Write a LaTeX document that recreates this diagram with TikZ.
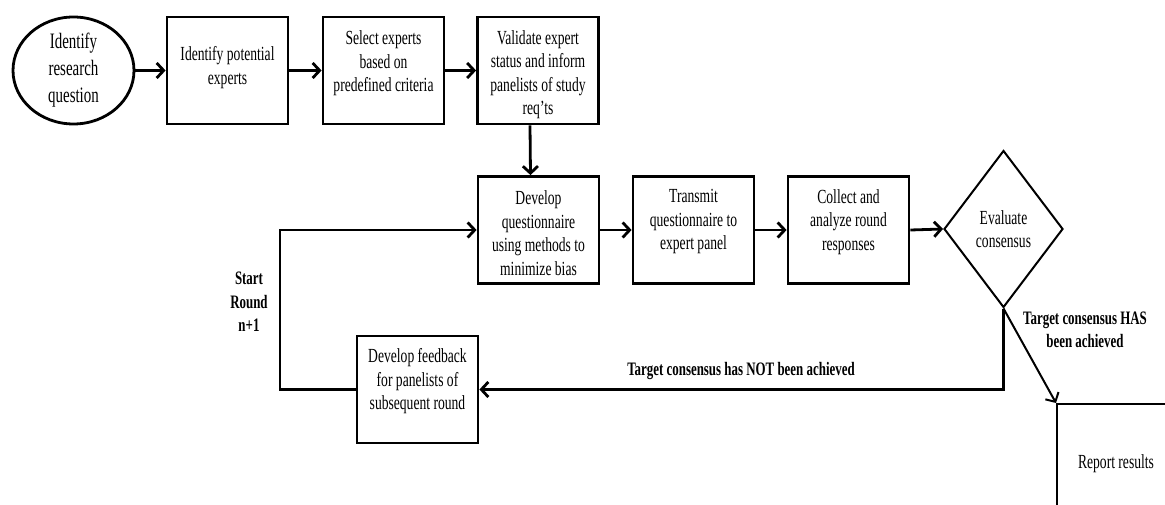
\documentclass[tikz,border=0pt]{standalone}
\usepackage{fontspec}
\setmainfont{Liberation Serif}[FakeStretch=0.68]
\usetikzlibrary{shapes.geometric,arrows.meta}
\tikzset{
  box/.style={draw, line width=2.8pt, minimum width=121pt, minimum height=107pt, inner sep=0pt},
  boxtext/.style={align=center, inner sep=0pt, font=\fontsize{20}{23.5}\selectfont},
  arr/.style={line width=2.8pt, -{Straight Barb[length=7pt,width=15pt]}},
  thinarr/.style={line width=2pt, -{Straight Barb[length=7pt,width=15pt]}},
  lbl/.style={align=center, inner sep=0pt, font=\bfseries\fontsize{19}{23.5}\selectfont}
}
\begin{document}
\begin{tikzpicture}[x=1pt,y=-1pt]
\clip (0,0) rectangle (1165,505);
\fill[white] (0,0) rectangle (1165,505);

\node[draw, ellipse, line width=2.8pt, minimum width=121pt, minimum height=107pt, inner sep=0pt,
      align=center, font=\fontsize{22}{27}\selectfont] (q) at (73.5,70.5) {Identify\\research\\question};

\node[box, label={[boxtext,yshift=3pt]center:{Identify potential\\experts}}] (a) at (227.5,70.5) {};
\node[box, label={[boxtext,yshift=7pt]center:{Select experts\\based on\\predefined criteria}}] (b) at (383.5,70.5) {};
\node[box, label={[boxtext,yshift=-4pt]center:{Validate expert\\status and inform\\panelists of study\\req'ts}}] (c) at (538,70.5) {};

\node[box, label={[boxtext,yshift=-3pt]center:{Develop\\questionnaire\\using methods to\\minimize bias}}] (d) at (538.5,230) {};
\node[box, label={[boxtext,yshift=8pt]center:{Transmit\\questionnaire to\\expert panel}}] (e) at (693.5,230) {};
\node[box, label={[boxtext,yshift=8pt]center:{Collect and\\analyze round\\responses}}] (f) at (848.5,230) {};

\node[draw, diamond, line width=2pt, minimum width=119pt, minimum height=157pt, inner sep=0pt,
      align=center, font=\fontsize{20}{23.5}\selectfont] (g) at (1003.5,229) {Evaluate\\consensus};

\node[box, label={[boxtext,yshift=8pt]center:{Develop feedback\\for panelists of\\subsequent round}}] (fb) at (417.5,389.5) {};

\node[draw, line width=2pt, minimum width=118pt, minimum height=120pt, inner sep=0pt, anchor=north west,
      font=\fontsize{20}{23.5}\selectfont] (r) at (1056,403) {Report results};

\coordinate (lp) at (280,390);

\draw[arr] (q.east) -- (a.west);
\draw[arr] (a.east) -- (b.west);
\draw[arr] (b.east) -- (c.west);
\draw[arr] ([xshift=-8pt]c.south) -- ([xshift=-8pt]d.north);
\draw[arr] (d.east) -- (e.west);
\draw[arr] (e.east) -- (f.west);
\draw[arr] (f.east) -- (g.west);
\draw[arr] (fb.west) -- (fb.west -| lp) |- (d.west);
\draw[arr] (g.south) -- (g.south |- fb.east) -- (fb.east);
\draw[thinarr] (g.south) -- (r.north west);

\node[lbl] (nl) at (741,371) {Target consensus has NOT been achieved};
\node[lbl] (hl) at (1085,330) {Target consensus HAS\\been achieved};
\node[lbl] (sl) at (249,302) {Start\\Round\\n+1};
\end{tikzpicture}
\end{document}
